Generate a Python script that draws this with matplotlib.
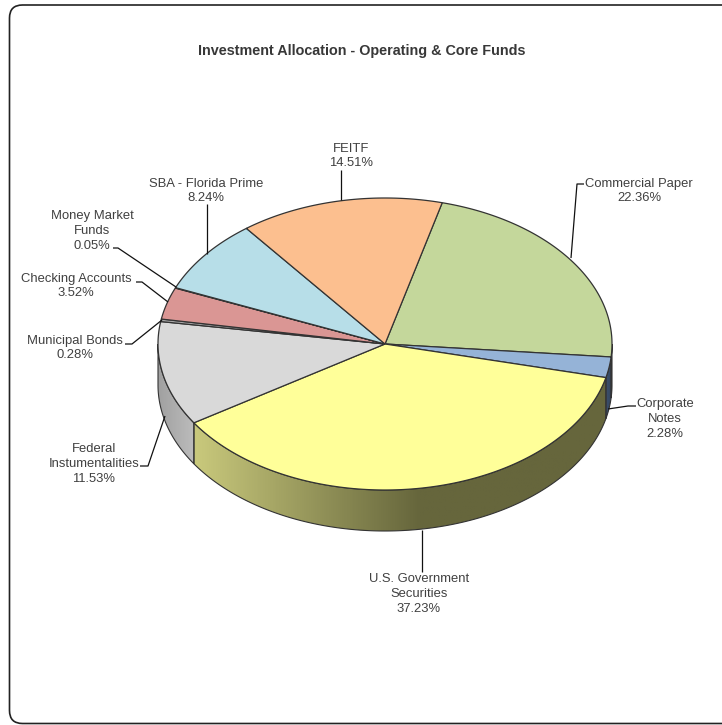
import numpy as np
import matplotlib
matplotlib.use('Agg')
import matplotlib.pyplot as plt
from matplotlib.patches import FancyBboxPatch, Polygon
from matplotlib.colors import LinearSegmentedColormap

plt.rcParams['font.family'] = ['Liberation Sans', 'DejaVu Sans']

title = 'Investment Allocation - Operating & Core Funds'
names = ['Commercial Paper', 'Corporate\nNotes', 'U.S. Government\nSecurities',
         'Federal\nInstumentalities', 'Municipal Bonds', 'Checking Accounts',
         'Money Market\nFunds', 'SBA - Florida Prime', 'FEITF']
shares = [22.36, 2.28, 37.23, 11.53, 0.28, 3.52, 0.05, 8.24, 14.51]
top_colors = ['#c4d79b', '#95b3d7', '#ffff99', '#d9d9d9', '#a6a6a6',
              '#da9694', '#963634', '#b7dee8', '#fcbf8f']
# left/right shade of each wall, walls run across x
wall_left = ['#66704a', '#3c4f6b', '#c9c97c', '#a0a0a0', '#808080',
             '#8a5f5e', '#602220', '#748e94', '#a07a5a']
wall_right = ['#5a6040', '#34465f', '#66663c', '#bcbcbc', '#808080',
              '#8a5f5e', '#602220', '#748e94', '#a07a5a']

# label position (pixels) and leader line path
label_xy = [(639, 191), (665, 419), (419, 594), (94, 464), (75, 348),
            (76, 286), (92, 231), (206, 191), (351, 156)]
leaders = [[(571, 258), (577, 184), (584, 184)],
           [(608, 409), (628, 406), (636, 406)],
           [(422, 530), (422, 572)],
           [(165, 416), (148, 466), (140, 466)],
           [(162, 320), (132, 344), (125, 344)],
           [(168, 302), (142, 282), (136, 282)],
           [(176, 287), (118, 248), (113, 248)],
           [(207, 254), (207, 204)],
           [(341, 200), (341, 170)]]

cx, cy = 385, 344
rx, ry = 227, 146
depth = 41
start = 75.4


def rim(a, b, n=200):
    t = np.radians(np.linspace(a, b, n))
    return cx + rx * np.cos(t), cy - ry * np.sin(t)


fig = plt.figure(figsize=(7.22, 7.25), dpi=100)
ax = fig.add_axes([0, 0, 1, 1])
ax.set_xlim(0, 722)
ax.set_ylim(725, 0)
ax.axis('off')

# rounded chart border, its right side runs past the edge of the figure
frame = FancyBboxPatch((9.5, 5), 726, 718.5, boxstyle='round,pad=0,rounding_size=13',
                       fc='white', ec='#222222', lw=1.2, zorder=0)
ax.add_patch(frame)

edges = start - np.cumsum([0] + shares) * 3.6

# walls first, only the part of the rim that faces the viewer
for i in range(len(shares)):
    lo, hi = max(edges[i + 1], -180), min(edges[i], 0)
    if hi <= lo:
        continue
    x, y = rim(lo, hi)
    pts = np.r_[np.c_[x, y], np.c_[x[::-1], y[::-1] + depth]]
    poly = Polygon(pts, closed=True, fc='none', ec='#333333', lw=0.8, zorder=3)
    ax.add_patch(poly)
    cmap = LinearSegmentedColormap.from_list('w', [wall_left[i], wall_right[i]])
    x0, x1 = x.min(), x.max()
    stop = min(x1, 420) if i == 2 else x1
    ramp = np.clip((np.linspace(x0, x1, 256) - x0) / max(stop - x0, 1), 0, 1)
    im = ax.imshow(ramp[None, :], cmap=cmap, vmin=0, vmax=1, aspect='auto', zorder=2,
                   extent=(x0, x1, y.max() + depth, y.min()))
    im.set_clip_path(poly)

ax.set_xlim(0, 722)
ax.set_ylim(725, 0)

# top face
for i in range(len(shares)):
    x, y = rim(edges[i], edges[i + 1])
    pts = np.r_[[(cx, cy)], np.c_[x, y]]
    ax.add_patch(Polygon(pts, closed=True, fc=top_colors[i], ec='#333333', lw=0.9, zorder=4))

for path in leaders:
    xs, ys = zip(*path)
    ax.plot(xs, ys, color='#111111', lw=0.9, zorder=5, solid_capstyle='butt')

for name, share, (tx, ty) in zip(names, shares, label_xy):
    ax.text(tx, ty, f'{name}\n{share:.2f}%', ha='center', va='center', fontsize=9.4,
            color='#404040', linespacing=1.31, zorder=6)

ax.text(362, 51, title, ha='center', va='center', fontsize=10.35, fontweight='bold', color='#383838')

fig.savefig('out.png', dpi=100)
